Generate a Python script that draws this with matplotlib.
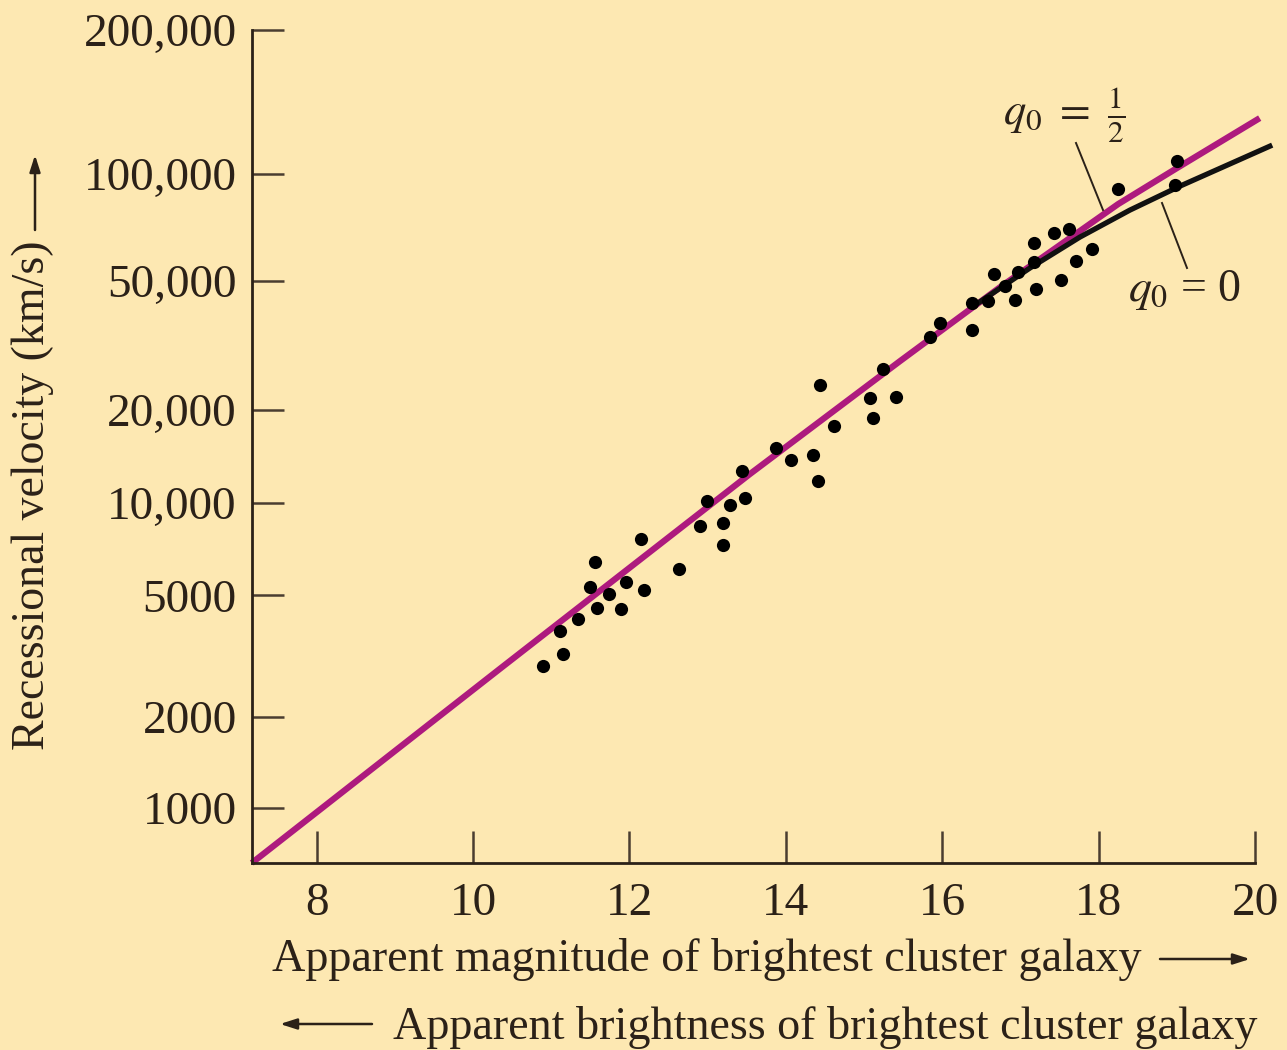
import numpy as np
import matplotlib
matplotlib.use("Agg")
import matplotlib.pyplot as plt
from matplotlib.ticker import FixedLocator, FixedFormatter, NullLocator
from matplotlib.lines import Line2D

# ---------------- data ----------------
# apparent magnitude of brightest cluster galaxy
mag = [10.89, 11.15, 11.11, 11.34, 11.59, 11.89, 11.50, 11.74, 11.96, 12.19,
       11.56, 12.15, 12.63, 12.90, 13.19, 13.20, 12.99, 13.29, 13.48, 13.44,
       13.87, 14.06, 14.35, 14.41, 14.44, 14.62, 15.08, 15.11, 15.24, 15.41,
       15.84, 15.97, 16.38, 16.38, 16.59, 16.66, 16.80, 16.93, 16.97, 17.17,
       17.17, 17.20, 17.43, 17.52, 17.62, 17.71, 17.92, 18.25, 19.00, 18.98]
# recessional velocity (km/s)
vel = [2940, 3217, 3827, 4172, 4533, 4498, 5323, 5036, 5514, 5191,
       6423, 7637, 6108, 8419, 8611, 7299, 10148, 9850, 10417, 12663,
       15048, 13771, 14269, 11781, 23848, 17772, 21693, 18848, 26851, 21900,
       33865, 37246, 43101, 35516, 43551, 52474, 48308, 43854, 53305, 64507,
       57056, 47231, 68890, 50340, 70849, 57443, 61996, 91478, 107712, 93732]

# model curves
mag_half = [7.17, 10.34, 13.54, 15.46, 16.74, 18.25, 19.00, 20.06]
vel_half = [658, 2866, 12412, 28444, 47974, 83147, 103430, 136327]
mag_zero = [16.42, 17.12, 17.76, 18.40, 19.04, 20.22]
vel_zero = [42351, 54664, 67241, 80045, 92888, 117973]

xticks = [8, 10, 12, 14, 16, 18, 20]
yticks = [1000, 2000, 5000, 10000, 20000, 50000, 100000, 200000]
yticklabels = ["1000", "2000", "5000", "10,000", "20,000", "50,000", "100,000", "200,000"]

# ---------------- style ----------------
plt.rcParams['font.family'] = ['Liberation Serif', 'DejaVu Serif']
plt.rcParams['mathtext.fontset'] = 'stix'

BG = '#FDE8B2'
MAG = '#AD1A7E'
TXT = '#2b2118'
TICK = '#4a3d30'
FS_TICK = 34
FS_LAB = 33.2

C = 299792.458


def fwd(v):
    v = np.asarray(v, dtype=float)
    with np.errstate(all='ignore'):
        b = v / C
        z = np.sqrt((1 + b) / (1 - b)) - 1
        return np.log10(z)


def inv(y):
    y = np.asarray(y, dtype=float)
    z = 10.0 ** y
    r = (1 + z) ** 2
    return C * (r - 1) / (r + 1)


W, H = 1287, 1050


def fx(px):
    return px / W


def fy(py):
    return 1 - py / H


fig = plt.figure(figsize=(W / 100, H / 100), dpi=100, facecolor=BG)
ax = fig.add_axes([fx(252), fy(863), fx(1255) - fx(252), fy(30) - fy(863)])
ax.set_facecolor(BG)
ax.set_yscale('function', functions=(fwd, inv))
ax.set_xlim(7.1725, 20.0)
ax.set_ylim(658, 200000)

ax.plot(mag_half, vel_half, color=MAG, lw=4.5, clip_on=False, zorder=2,
        solid_capstyle='butt', solid_joinstyle='round')
ax.plot(mag_zero, vel_zero, color='#111111', lw=3.8, clip_on=False, zorder=3,
        solid_capstyle='butt', solid_joinstyle='round')
ax.plot(mag, vel, 'o', color='black', ms=9.5, mec='none', zorder=4, clip_on=False)

for s in ['top', 'right']:
    ax.spines[s].set_visible(False)
for s in ['left', 'bottom']:
    ax.spines[s].set_linewidth(2.0)
    ax.spines[s].set_color(TXT)

ax.xaxis.set_major_locator(FixedLocator(xticks))
ax.xaxis.set_major_formatter(FixedFormatter([str(t) for t in xticks]))
ax.yaxis.set_major_locator(FixedLocator(yticks))
ax.yaxis.set_major_formatter(FixedFormatter(yticklabels))
ax.yaxis.set_minor_locator(NullLocator())
ax.xaxis.set_minor_locator(NullLocator())

ax.tick_params(axis='both', direction='in', length=23, width=1.8, color=TICK,
               labelcolor=TXT, labelsize=FS_TICK)
ax.tick_params(axis='x', pad=14)
ax.tick_params(axis='y', pad=11)

# axis labels
fig.text(fx(33), fy(750), 'Recessional velocity (km/s)', rotation=90,
         ha='center', va='bottom', fontsize=33, color=TXT)
fig.text(fx(272), fy(971), 'Apparent magnitude of brightest cluster galaxy',
         ha='left', va='baseline', fontsize=FS_LAB, color=TXT)
fig.text(fx(393), fy(1039), 'Apparent brightness of brightest cluster galaxy',
         ha='left', va='baseline', fontsize=FS_LAB, color=TXT)

arrow_kw = dict(arrowstyle='-|>,head_length=1.0,head_width=0.32', color=TXT,
                lw=1.8, shrinkA=0, shrinkB=0)
for (x0, y0), (x1, y1) in [((35, 230), (35, 155)),
                           ((1160, 959), (1250, 959)),
                           ((372, 1024), (280, 1024))]:
    ax.annotate('', xy=(fx(x1), fy(y1)), xytext=(fx(x0), fy(y0)),
                xycoords='figure fraction', textcoords='figure fraction',
                arrowprops=arrow_kw, annotation_clip=False)

# curve labels
fig.text(fx(1003), fy(115), r'$q_0\ =\ \frac{1}{2}$', ha='left', va='center',
         fontsize=32, color=TXT)
fig.text(fx(1128), fy(290), r'$q_0$ = 0', ha='left', va='center',
         fontsize=33, color=TXT)
fig.add_artist(Line2D([fx(1076), fx(1103)], [fy(143), fy(210)],
                      transform=fig.transFigure, color=TXT, lw=1.4))
fig.add_artist(Line2D([fx(1162), fx(1187)], [fy(203), fy(268)],
                      transform=fig.transFigure, color=TXT, lw=1.4))

fig.savefig('out.png', dpi=100, facecolor=BG)
